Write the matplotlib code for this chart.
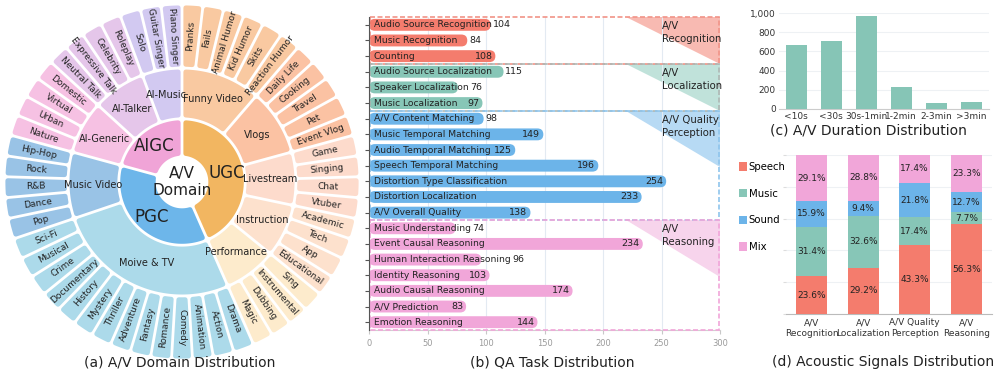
import numpy as np
import matplotlib
matplotlib.use("Agg")
import matplotlib.pyplot as plt
from matplotlib.patches import Polygon, FancyBboxPatch, Rectangle, Patch

plt.rcParams['font.family'] = ['DejaVu Sans']

# ---------------- data ----------------
# (a) sunburst
domains = ['UGC', 'PGC', 'AIGC']
subcats = ['Funny Video', 'Vlogs', 'Livestream', 'Instruction', 'Performance',
           'Moive & TV', 'Music Video', 'AI-Generic', 'AI-Talker', 'AI-Music']
sub_parent = [0, 0, 0, 0, 0, 1, 1, 2, 2, 2]
funny_video = ['Pranks', 'Fails', 'Animal Humor', 'Kid Humor', 'Skits', 'Reaction Humor']
vlogs = ['Daily Life', 'Cooking', 'Travel', 'Pet', 'Event Vlog']
livestream = ['Game', 'Singing', 'Chat', 'Vtuber']
instruction = ['Academic', 'Tech', 'App', 'Educational']
performance = ['Sing', 'Instrumental', 'Dubbing', 'Magic']
movie_tv = ['Drama', 'Action', 'Animation', 'Comedy', 'Romance', 'Fantasy', 'Adventure',
            'Thriller', 'Mystery', 'History', 'Documentary', 'Crime', 'Musical', 'Sci-Fi']
music_video = ['Pop', 'Dance', 'R&B', 'Rock', 'Hip-Hop']
ai_generic = ['Nature', 'Urban', 'Virtual', 'Domestic']
ai_talker = ['Neutral Talk', 'Expressive Talk', 'Celebrity', 'Roleplay']
ai_music = ['Solo', 'Guitar Singer', 'Piano Singer']
leaves = [funny_video, vlogs, livestream, instruction, performance,
          movie_tv, music_video, ai_generic, ai_talker, ai_music]

# (b) QA tasks
qa_tasks = ['Audio Source Recognition', 'Music Recognition', 'Counting',
            'Audio Source Localization', 'Speaker Localization', 'Music Localization',
            'A/V Content Matching', 'Music Temporal Matching', 'Audio Temporal Matching',
            'Speech Temporal Matching', 'Distortion Type Classification',
            'Distortion Localization', 'A/V Overall Quality',
            'Music Understanding', 'Event Causal Reasoning', 'Human Interaction Reasoning',
            'Identity Reasoning', 'Audio Causal Reasoning', 'A/V Prediction',
            'Emotion Reasoning']
qa_counts = [104, 84, 108, 115, 76, 97, 98, 149, 125, 196, 254, 233, 138,
             74, 234, 96, 103, 174, 83, 144]
qa_groups = ['A/V\nRecognition', 'A/V\nLocalization', 'A/V Quality\nPerception', 'A/V\nReasoning']
qa_group_sizes = [3, 3, 7, 7]

# (c) duration
dur_labels = ['<10s', '<30s', '30s-1min', '1-2min', '2-3min', '>3min']
dur_counts = [665, 712, 968, 224, 59, 69]

# (d) acoustic signals
ac_tasks = ['A/V\nRecognition', 'A/V\nLocalization', 'A/V Quality\nPerception', 'A/V\nReasoning']
ac_series = ['Speech', 'Music', 'Sound', 'Mix']
speech = [23.6, 29.2, 43.3, 56.3]
music = [31.4, 32.6, 17.4, 7.7]
sound = [15.9, 9.4, 21.8, 12.7]
mix = [29.1, 28.8, 17.4, 23.3]

# ---------------- styles ----------------
W, H = 997, 373
fig = plt.figure(figsize=(W / 100, H / 100), dpi=100)

dom_colors = ['#F2B661', '#6DB6EA', '#F0A4D7']
sub_colors = ['#F9C9A1', '#FBC2A3', '#FDDBCC', '#FDE1CD', '#FDEBCC',
              '#ACDAEA', '#99C3E6', '#F6C1E3', '#E5C6EA', '#D2C9F1']
grp_colors = ['#F47C6D', '#87C6B7', '#6CB4E9', '#F1A6D9']
tri_colors = ['#F8BAB2', '#C0E2DA', '#B7DAF4', '#F7D4EC']
box_colors = ['#F19488', '#AEB7B4', '#8FC5EC', '#F1A6D9']
txt = '#222222'

# ---------------- (a) sunburst ----------------
cx, cy, R = 182, 182, 178
ax_a = fig.add_axes([(cx - R) / W, (H - cy - R) / H, 2 * R / W, 2 * R / H])
ax_a.set_xlim(-1, 1)
ax_a.set_ylim(-1, 1)
ax_a.axis('off')

r_levels = [0.14, 0.355, 0.64, 1.0]
gap = 1.4 / R
rnd = 2.4 / R
lw_rnd = 2 * rnd * R * 72 / 100


def cell(a0, a1, r0, r1, color):
    ri = r0 + gap + rnd
    ro = r1 - gap - rnd
    do = np.degrees((gap + rnd) / ro)
    di = np.degrees((gap + rnd) / ri)
    n = max(3, int(abs(a1 - a0) * 2))
    ta = np.linspace(a0 + do, a1 - do, n)
    tb = np.linspace(a1 - di, a0 + di, n)
    pts = np.vstack([np.c_[ro * np.cos(np.radians(ta)), ro * np.sin(np.radians(ta))],
                     np.c_[ri * np.cos(np.radians(tb)), ri * np.sin(np.radians(tb))]])
    ax_a.add_patch(Polygon(pts, closed=True, fc=color, ec=color, lw=lw_rnd,
                           joinstyle='round'))


n_leaf = sum(len(l) for l in leaves)
step = 360.0 / n_leaf
# clockwise from 12 o'clock
pos = 0
sub_span = []
for i, lst in enumerate(leaves):
    start = pos
    for name in lst:
        a1 = 90 - pos * step
        a0 = a1 - step
        cell(a0, a1, r_levels[2], r_levels[3], sub_colors[i])
        mid = (a0 + a1) / 2
        m = (mid + 180) % 360 - 180
        rot = m if -90 <= m <= 90 else m - 180
        rr = (r_levels[2] + r_levels[3]) / 2
        ax_a.text(rr * np.cos(np.radians(mid)), rr * np.sin(np.radians(mid)), name,
                  rotation=rot, rotation_mode='anchor', ha='center', va='center',
                  fontsize=6.5, color=txt)
        pos += 1
    sub_span.append((start, pos))

for i, (s, e) in enumerate(sub_span):
    a1 = 90 - s * step
    a0 = 90 - e * step
    cell(a0, a1, r_levels[1], r_levels[2], sub_colors[i])
    mid = (a0 + a1) / 2
    rr = (r_levels[1] + r_levels[2]) / 2
    ax_a.text(rr * np.cos(np.radians(mid)), rr * np.sin(np.radians(mid)), subcats[i],
              ha='center', va='center', fontsize=7, color=txt)

for d in range(len(domains)):
    idx = [i for i, p in enumerate(sub_parent) if p == d]
    s = sub_span[idx[0]][0]
    e = sub_span[idx[-1]][1]
    a1 = 90 - s * step
    a0 = 90 - e * step
    cell(a0, a1, r_levels[0], r_levels[1], dom_colors[d])
    mid = (a0 + a1) / 2
    rr = (r_levels[0] + r_levels[1]) / 2 + 0.01
    ax_a.text(rr * np.cos(np.radians(mid)), rr * np.sin(np.radians(mid)), domains[d],
              ha='center', va='center', fontsize=12, color=txt)

ax_a.text(0, 0, 'A/V\nDomain', ha='center', va='center', fontsize=11, color=txt,
          linespacing=1.1)

# ---------------- (b) QA task bars ----------------
ax_b = fig.add_axes([369 / W, (H - 330) / H, 351 / W, 313 / H])
n = len(qa_tasks)
y = np.arange(n)
bar_colors = []
for g, sz in enumerate(qa_group_sizes):
    bar_colors += [grp_colors[g]] * sz
ax_b.set_xlim(0, 300)
ax_b.set_ylim(n - 0.5, -0.5)
bh = 0.76
bars = ax_b.barh(y, qa_counts, height=bh, color=bar_colors, zorder=3)

xpp = 300 / 351.0
ypp = n / 313.0
asp = ypp / xpp
rs = (bh / ypp / 2) * xpp
for b in bars:
    x0, y0 = b.get_x(), b.get_y()
    w, h = b.get_width(), b.get_height()
    fb = FancyBboxPatch((x0, y0), w, h, boxstyle=f"round,pad=0,rounding_size={rs}",
                        mutation_aspect=asp, fc=b.get_facecolor(), ec='none', zorder=3)
    b.set_visible(False)
    ax_b.add_patch(fb)

ax_b.set_xticks(np.arange(0, 301, 50))
ax_b.tick_params(axis='x', labelsize=6, colors='#9a9a9a', length=3, color='#c8c8c8')
ax_b.set_yticks(y)
ax_b.set_yticklabels([])
ax_b.tick_params(axis='y', length=3, color='#555555')
ax_b.grid(axis='x', color='#e3eaf2', lw=0.8, zorder=0)
for sp in ['top', 'right']:
    ax_b.spines[sp].set_visible(False)
ax_b.spines['bottom'].set_color('#d0d0d0')
ax_b.spines['left'].set_color('#555555')
ax_b.spines['left'].set_zorder(5)

renderer = fig.canvas.get_renderer()
inv = ax_b.transData.inverted()
for i, (name, v) in enumerate(zip(qa_tasks, qa_counts)):
    t = ax_b.text(4, i, name, ha='left', va='center', fontsize=6.6, color=txt, zorder=6)
    bb = t.get_window_extent(renderer)
    lab_end = inv.transform((bb.x1, bb.y0))[0]
    tv = ax_b.text(0, i, str(v), fontsize=6.8, color=txt, va='center', zorder=6)
    vb = tv.get_window_extent(renderer)
    vw = (vb.x1 - vb.x0) * xpp
    if lab_end + vw + 4 < v:
        tv.set_x(v - 2.5)
        tv.set_ha('right')
    else:
        tv.set_x(max(v, lab_end) + 1.5)
        tv.set_ha('left')

start = 0
for g, sz in enumerate(qa_group_sizes):
    top = start - 0.5
    th = min(sz, 3.6)
    ax_b.add_patch(Polygon([(220, top), (300, top), (300, top + th)], closed=True,
                           fc=tri_colors[g], ec='none', zorder=1))
    ax_b.add_patch(Rectangle((0.5, top), 299, sz, fill=False, ls=(0, (3, 1.5)),
                             ec=box_colors[g], lw=1.2, zorder=4, clip_on=False))
    ax_b.text(250, top + 0.25, qa_groups[g], ha='left', va='top', fontsize=7.3,
              color=txt, zorder=6, linespacing=1.35)
    start += sz

# ---------------- (c) duration ----------------
ax_c = fig.add_axes([778.5 / W, (H - 109) / H, 210 / W, 96 / H])
xc = np.arange(len(dur_labels))
ax_c.bar(xc, dur_counts, width=0.6, color='#86C5B6', zorder=3)
ax_c.set_xlim(-0.5, len(dur_labels) - 0.5)
ax_c.set_ylim(0, 1000)
ax_c.set_yticks(np.arange(0, 1001, 200))
ax_c.set_yticklabels([f"{v:,}" for v in range(0, 1001, 200)])
ax_c.set_xticks(xc)
ax_c.set_xticklabels(dur_labels)
ax_c.tick_params(axis='both', labelsize=6.5, colors='#333333', length=0, pad=2)
ax_c.grid(axis='y', color='#eef1f4', lw=0.8, zorder=0)
for sp in ['top', 'right', 'left']:
    ax_c.spines[sp].set_visible(False)
ax_c.spines['bottom'].set_color('#cccccc')

# ---------------- (d) acoustic signals ----------------
ax_d = fig.add_axes([786 / W, (H - 314) / H, 206 / W, 159 / H])
xd = np.arange(len(ac_tasks))
series_vals = [speech, music, sound, mix]
bottom = np.zeros(len(ac_tasks))
for k, vals in enumerate(series_vals):
    ax_d.bar(xd, vals, width=0.6, bottom=bottom, color=grp_colors[k],
             label=ac_series[k], zorder=3)
    for j, v in enumerate(vals):
        ax_d.text(xd[j], bottom[j] + v / 2, f"{v:.1f}%", ha='center', va='center',
                  fontsize=6.5, color=txt, zorder=4)
    bottom += np.array(vals)
ax_d.set_xlim(-0.5, len(ac_tasks) - 0.5)
ax_d.set_ylim(0, 100)
ax_d.set_yticks(np.arange(0, 101, 20))
ax_d.set_yticklabels([])
ax_d.set_xticks(xd)
ax_d.set_xticklabels(ac_tasks)
ax_d.tick_params(axis='x', labelsize=6.5, colors='#333333', length=0, pad=3)
ax_d.tick_params(axis='y', length=2, color='#dddddd')
ax_d.grid(axis='y', color='#eef1f4', lw=0.8, zorder=0)
for sp in ['top', 'right', 'left']:
    ax_d.spines[sp].set_visible(False)
ax_d.spines['bottom'].set_color('#bbbbbb')
handles = [Patch(fc=grp_colors[k], ec='none') for k in range(4)]
fig.legend(handles, ac_series, loc='upper left', bbox_to_anchor=(739 / W, 1 - 162 / H),
           frameon=False, fontsize=7.3, handlelength=0.8, handleheight=0.9,
           handletextpad=0.15, labelspacing=1.65, borderaxespad=0, borderpad=0)

# ---------------- captions ----------------
fig.text(180 / W, 1 - 363 / H, '(a) A/V Domain Distribution', ha='center', va='center',
         fontsize=10, color=txt)
fig.text(552 / W, 1 - 363 / H, '(b) QA Task Distribution', ha='center', va='center',
         fontsize=10, color=txt)
fig.text(868 / W, 1 - 130 / H, '(c) A/V Duration Distribution', ha='center', va='center',
         fontsize=10, color=txt)
fig.text(883 / W, 1 - 362 / H, '(d) Acoustic Signals Distribution', ha='center',
         va='center', fontsize=10, color=txt)

fig.savefig('out.png', dpi=100)
